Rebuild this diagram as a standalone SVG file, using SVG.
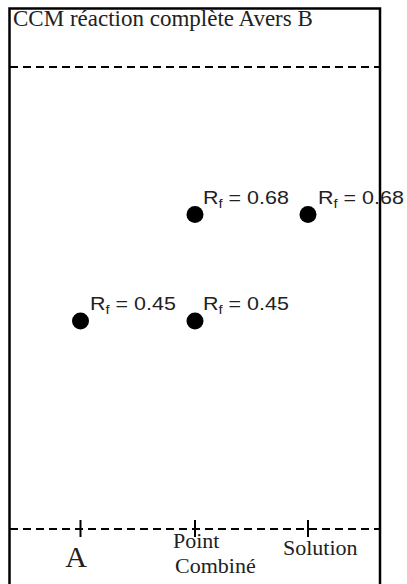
<svg xmlns="http://www.w3.org/2000/svg" width="407" height="584" viewBox="0 0 407 584">
<style>
.serif{font-family:"Liberation Serif","Times New Roman",serif;fill:#222}
.sans{font-family:"Liberation Sans",Arial,sans-serif;font-size:19px;fill:#222}
.dash{stroke:#000;stroke-width:2;stroke-dasharray:8 5;fill:none}
.tick{stroke:#000;stroke-width:2}
.dot{fill:#000}
</style>
<rect width="407" height="584" fill="#fff"/>
<g id="frame">
<path d="M9.5,584 V8.5 H380 V584" fill="none" stroke="#000" stroke-width="2.5"/>
<text class="serif" x="13" y="26" font-size="23">CCM réaction complète Avers B</text>
<line class="dash" x1="10" y1="67" x2="380" y2="67"/>
<line class="dash" x1="10" y1="529" x2="380" y2="529"/>
</g>
<g id="connectors">
<line class="tick" x1="80.5" y1="520" x2="80.5" y2="537"/>
<line class="tick" x1="195" y1="520" x2="195" y2="537"/>
<line class="tick" x1="308" y1="520" x2="308" y2="537"/>
</g>
<g id="lane-A">
<text class="serif" x="76" y="567" font-size="30" text-anchor="middle">A</text>
<circle class="dot" cx="80.5" cy="321" r="8.5"/>
<g transform="translate(90,310) scale(1.13,1)"><text class="sans">R<tspan font-size="13" dy="4">f</tspan><tspan dy="-4"> = 0.45</tspan></text></g>
</g>
<g id="lane-point-combine">
<text class="serif" x="173" y="548" font-size="22">Point</text>
<text class="serif" x="175" y="573" font-size="22">Combiné</text>
<circle class="dot" cx="195" cy="214.5" r="8.5"/>
<g transform="translate(203,203.5) scale(1.13,1)"><text class="sans">R<tspan font-size="13" dy="4">f</tspan><tspan dy="-4"> = 0.68</tspan></text></g>
<circle class="dot" cx="195" cy="321" r="8.5"/>
<g transform="translate(203,310) scale(1.13,1)"><text class="sans">R<tspan font-size="13" dy="4">f</tspan><tspan dy="-4"> = 0.45</tspan></text></g>
</g>
<g id="lane-solution">
<text class="serif" x="283" y="555" font-size="22">Solution</text>
<circle class="dot" cx="308" cy="214.5" r="8.5"/>
<g transform="translate(318,203.5) scale(1.13,1)"><text class="sans">R<tspan font-size="13" dy="4">f</tspan><tspan dy="-4"> = 0.68</tspan></text></g>
</g>
</svg>
